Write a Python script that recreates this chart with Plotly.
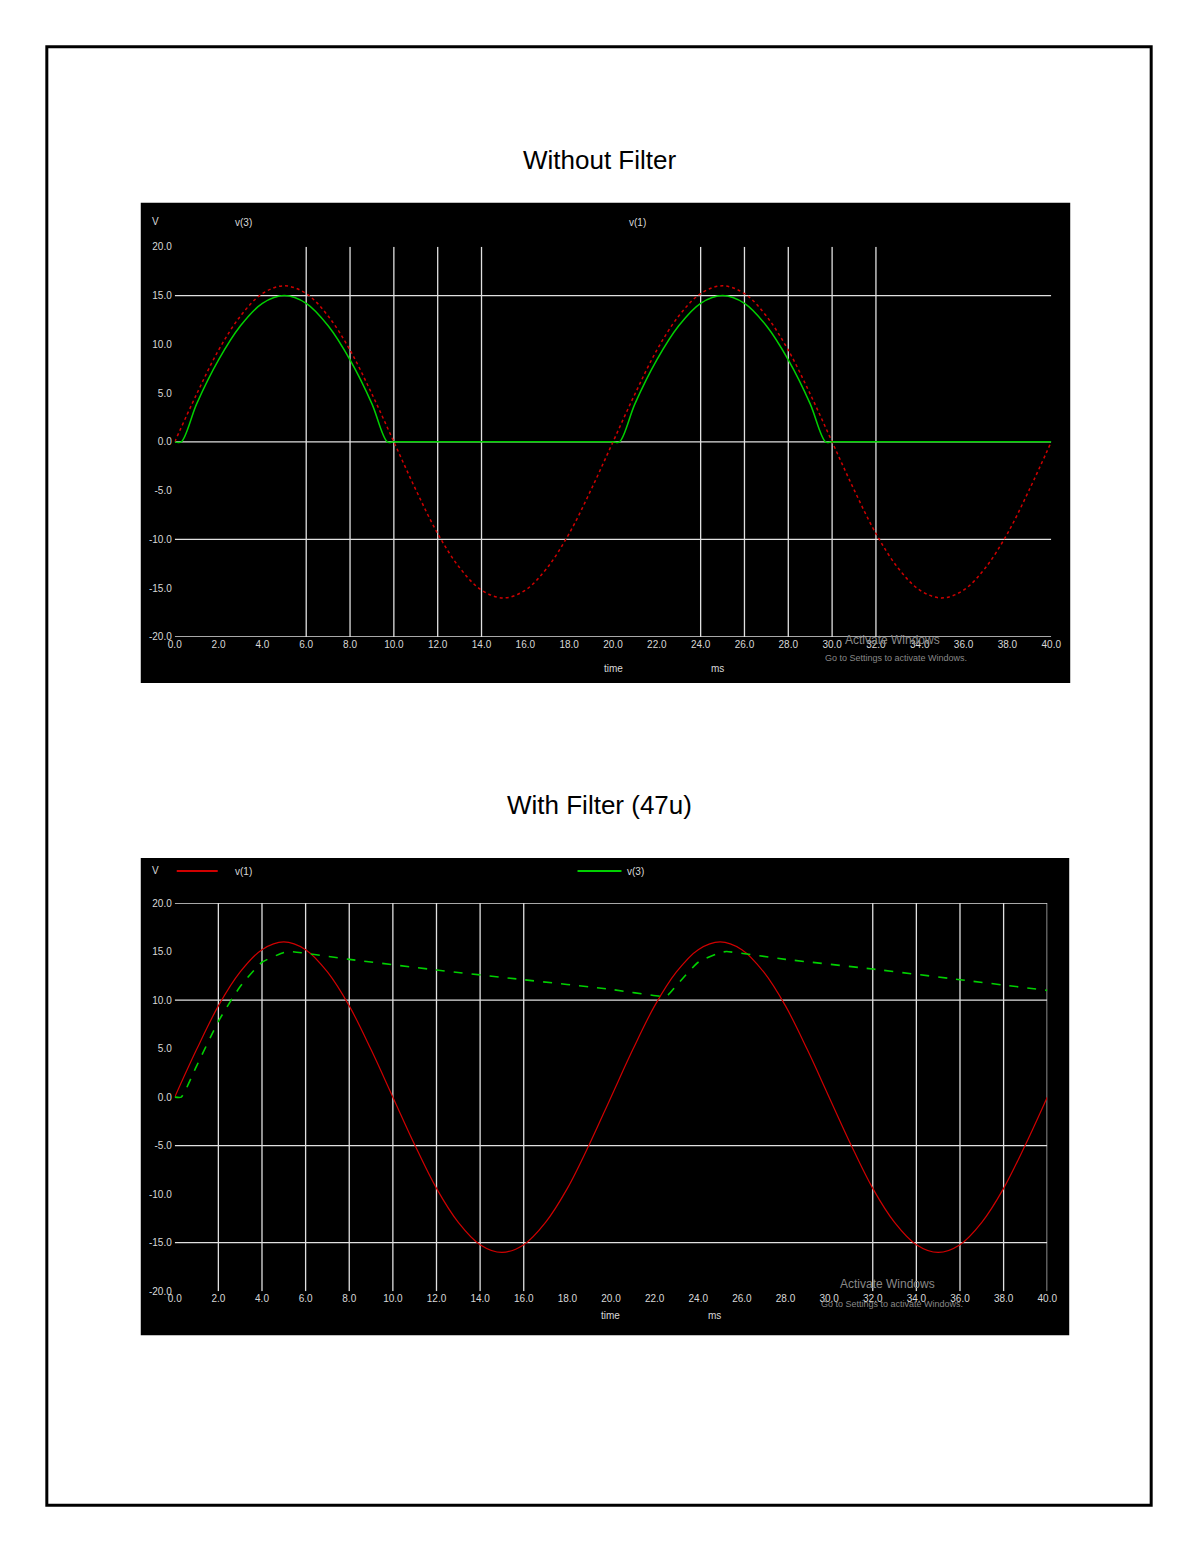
import plotly.graph_objects as go

W, H = 1200, 1553
t = list(range(0, 41))
v1 = [0, 4.9, 9.4, 12.9, 15.2, 16, 15.2, 12.9, 9.4, 4.9, 0, -4.9, -9.4, -12.9, -15.2, -16, -15.2, -12.9, -9.4, -4.9,
      0, 4.9, 9.4, 12.9, 15.2, 16, 15.2, 12.9, 9.4, 4.9, 0, -4.9, -9.4, -12.9, -15.2, -16, -15.2, -12.9, -9.4, -4.9, 0]
t3a = [0, 0.3, 1, 2, 3, 4, 5, 6, 7, 8, 9, 9.7, 10, 12, 14, 16, 18, 20, 20.3, 21, 22, 23, 24, 25, 26, 27, 28, 29, 29.7, 30, 32, 34, 36, 38, 40]
v3a = [0, 0, 3.9, 8.4, 11.9, 14.2, 15, 14.2, 11.9, 8.4, 3.9, 0, 0, 0, 0, 0, 0, 0, 0, 3.9, 8.4, 11.9, 14.2, 15, 14.2, 11.9, 8.4, 3.9, 0, 0, 0, 0, 0, 0, 0]
t3b = [0, 0.3, 1, 2, 3, 4, 5, 5.3, 8, 12, 16, 20, 22.3, 22.6, 23, 24, 25, 25.3, 28, 32, 36, 40]
v3b = [0, 0, 3.2, 7.8, 11.4, 13.9, 14.9, 15, 14.2, 13.1, 12.1, 11.1, 10.4, 10.5, 11.5, 13.9, 14.9, 15, 14.2, 13.2, 12.1, 11.0]
xticks = [0, 2, 4, 6, 8, 10, 12, 14, 16, 18, 20, 22, 24, 26, 28, 30, 32, 34, 36, 38, 40]
yticks = [20, 15, 10, 5, 0, -5, -10, -15, -20]
top_hgrid = [15, 0, -10, -20]
top_vgrid = [6, 8, 10, 12, 14, 24, 26, 28, 30, 32]
bot_hgrid = [20, 10, -5, -15]
bot_vgrid = [2, 4, 6, 8, 10, 12, 14, 16, 32, 34, 36, 38, 40]

SX, SY = 0.9864, 0.9925
def px(x): return (600 + (x - 599) / SX) / W
def py(y): return 1 - (776.5 + (y - 776) / SY) / H

fig = go.Figure()
fig.add_trace(go.Scatter(x=t, y=v1, xaxis="x", yaxis="y", mode="lines", line=dict(color="#d00000", width=1.5, shape="spline", dash="dot")))
fig.add_trace(go.Scatter(x=t3a, y=v3a, xaxis="x", yaxis="y", mode="lines", line=dict(color="#00d000", width=1.5, shape="spline", smoothing=0.9)))
fig.add_trace(go.Scatter(x=t, y=v1, xaxis="x2", yaxis="y2", mode="lines", line=dict(color="#d00000", width=1.2, shape="spline")))
fig.add_trace(go.Scatter(x=t3b, y=v3b, xaxis="x2", yaxis="y2", mode="lines", line=dict(color="#00d000", width=1.6, shape="spline", smoothing=0.5, dash="dash")))

shapes = [
    dict(type="rect", xref="paper", yref="paper", x0=px(141), x1=px(1071), y0=py(683), y1=py(203), fillcolor="black", line_width=0, layer="below"),
    dict(type="rect", xref="paper", yref="paper", x0=px(141), x1=px(1070), y0=py(1335), y1=py(858), fillcolor="black", line_width=0, layer="below"),
    dict(type="rect", xref="paper", yref="paper", x0=px(47), x1=px(1152), y0=py(1505), y1=py(47), line=dict(color="black", width=3)),
    dict(type="line", xref="paper", yref="paper", x0=px(177), x1=px(218), y0=py(871), y1=py(871), line=dict(color="#d00000", width=2)),
    dict(type="line", xref="paper", yref="paper", x0=px(578), x1=px(622), y0=py(871), y1=py(871), line=dict(color="#00d000", width=2)),
]
gl = dict(color="#e0e0e0", width=1.3)
for y in top_hgrid:
    shapes.append(dict(type="line", xref="x", yref="y", x0=0, x1=40, y0=y, y1=y, line=gl, layer="below"))
for x in top_vgrid:
    shapes.append(dict(type="line", xref="x", yref="y", x0=x, x1=x, y0=-20, y1=20, line=gl, layer="below"))
for y in bot_hgrid:
    shapes.append(dict(type="line", xref="x2", yref="y2", x0=0, x1=40, y0=y, y1=y, line=gl, layer="below"))
for x in bot_vgrid:
    shapes.append(dict(type="line", xref="x2", yref="y2", x0=x, x1=x, y0=-20, y1=20, line=gl, layer="below"))

tf = dict(family="Liberation Sans", size=10, color="#d8d8d8")
def xa(dom, anchor):
    return dict(domain=dom, range=[0, 40], tickvals=xticks, ticktext=[f"{v:.1f}" for v in xticks], showgrid=False, zeroline=False,
                showline=False, ticks="", tickfont=tf, anchor=anchor, fixedrange=True)
def ya(dom, anchor):
    return dict(domain=dom, range=[-20, 20], tickvals=yticks, ticktext=[f"{v:.1f}" for v in yticks], showgrid=False, zeroline=False,
                showline=False, ticks="", tickfont=tf, anchor=anchor, ticklabelstandoff=2, fixedrange=True)

def ann(x, y, text, size=10, color="#d8d8d8", **kw):
    return dict(xref="paper", yref="paper", x=px(x), y=py(y), text=text, showarrow=False, font=dict(family="Liberation Sans", size=size, color=color), **kw)

annotations = [
    ann(600, 143, "Without Filter", size=26, color="black"),
    ann(600, 805, "With Filter (47u)", size=26, color="black"),
    ann(150, 214, "V"), ann(233, 215, "v(3)"), ann(638, 215, "v(1)"),
    ann(614, 669, "time"), ann(718, 669, "ms"),
    ann(150, 870, "V"), ann(233, 871, "v(1)"), ann(636, 871, "v(3)"),
    ann(611, 1323, "time"), ann(715, 1323, "ms"),
    ann(943, 640, "Activate Windows", size=12, color="#888"), ann(970, 658, "Go to Settings to activate Windows.", size=9, color="#888"),
    ann(938, 1293, "Activate Windows", size=12, color="#888"), ann(966, 1311, "Go to Settings to activate Windows.", size=9, color="#888"),
]

fig.update_layout(
    autosize=True, margin=dict(l=0, r=0, t=0, b=0), paper_bgcolor="white", plot_bgcolor="rgba(0,0,0,0)",
    showlegend=False, shapes=shapes, annotations=annotations,
    xaxis=xa([px(175), px(1052)], "y"), yaxis=ya([py(637), py(247)], "x"),
    xaxis2=xa([px(175), px(1048)], "y2"), yaxis2=ya([py(1291), py(903)], "x2"),
)
fig.write_html("out.html", default_width="100%", default_height="100%", config=dict(displayModeBar=False, responsive=True))
with open("out.html", encoding="utf-8") as f:
    html = f.read()
html = html.replace("<head>", "<head><style>html,body{margin:0;padding:0;overflow:hidden;width:100%;height:100%;}</style>", 1)
with open("out.html", "w", encoding="utf-8") as f:
    f.write(html)
